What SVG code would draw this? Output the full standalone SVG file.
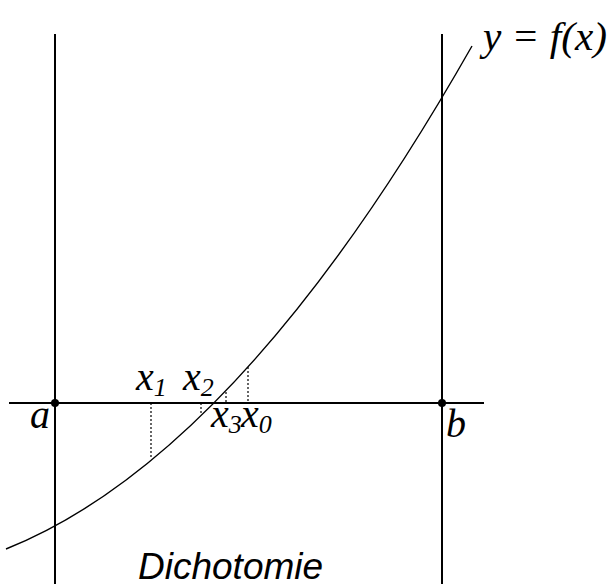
<svg xmlns="http://www.w3.org/2000/svg" width="609" height="587" viewBox="0 0 609 587">
<style>
.ax{stroke:#000;stroke-width:2;fill:none}
.cv{stroke:#000;stroke-width:1.4;fill:none}
.dt{stroke:#000;stroke-width:1.2;stroke-dasharray:2 2;fill:none}
.m{font-family:"Liberation Serif","DejaVu Serif",serif;font-style:italic;font-size:40px;fill:#000}
.s{font-size:26px}
.t{font-family:"Liberation Sans",Arial,sans-serif;font-style:italic;font-size:37px;fill:#000}
</style>
<rect width="609" height="587" fill="#fff"/>
<g id="connectors">
<line class="ax" x1="55" y1="34" x2="55" y2="584"/>
<line class="ax" x1="442" y1="34" x2="442" y2="584"/>
<line class="ax" x1="9" y1="403" x2="484" y2="403"/>
<path class="cv" d="M6,549 Q239,456 472,46"/>
<line class="dt" x1="151" y1="403" x2="151" y2="459"/>
<line class="dt" x1="201" y1="403" x2="201" y2="415"/>
<line class="dt" x1="226" y1="392" x2="226" y2="403"/>
<line class="dt" x1="248" y1="367" x2="248" y2="403"/>
</g>
<g id="pointA"><circle cx="55" cy="403" r="4"/><text class="m" x="30" y="428">a</text></g>
<g id="pointB"><circle cx="442" cy="403" r="4"/><text class="m" x="446" y="437">b</text></g>
<g id="x1"><text class="m" x="136" y="390">x<tspan class="s" dy="6">1</tspan></text></g>
<g id="x2"><text class="m" x="183" y="390">x<tspan class="s" dy="6">2</tspan></text></g>
<g id="x3"><text class="m" x="211" y="427">x<tspan class="s" dy="6">3</tspan></text></g>
<g id="x0"><text class="m" x="241" y="427">x<tspan class="s" dy="6">0</tspan></text></g>
<g id="func"><text class="m" x="483" y="50" textLength="124" lengthAdjust="spacingAndGlyphs">y = f(x)</text></g>
<g id="title"><text class="t" x="138" y="579">Dichotomie</text></g>
</svg>
